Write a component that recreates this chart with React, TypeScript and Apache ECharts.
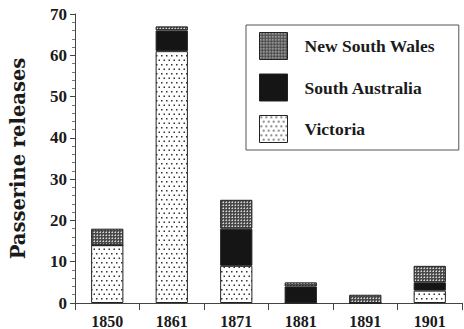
import React, { useEffect, useRef } from "react";
import * as echarts from "echarts";

const years = ["1850", "1861", "1871", "1881", "1891", "1901"];
const victoria = [14, 61, 9, 0, 0, 3];
const southAustralia = [0, 5, 9, 4, 0, 2];
const newSouthWales = [4, 1, 7, 1, 2, 4];
const legendOrder = ["New South Wales", "South Australia", "Victoria"];

function makeDots(): HTMLCanvasElement {
  const c = document.createElement("canvas");
  c.width = 10;
  c.height = 9;
  const g = c.getContext("2d")!;
  g.fillStyle = "#ffffff";
  g.fillRect(0, 0, 10, 9);
  g.fillStyle = "#333333";
  g.fillRect(1, 1, 1.5, 1.5);
  g.fillRect(6, 1, 1.5, 1.5);
  g.fillRect(3.5, 5.5, 1.5, 1.5);
  g.fillRect(8.5, 5.5, 1.5, 1.5);
  return c;
}

function makeChecker(): HTMLCanvasElement {
  const c = document.createElement("canvas");
  c.width = 3;
  c.height = 3;
  const g = c.getContext("2d")!;
  g.fillStyle = "#4a4a4a";
  g.fillRect(0, 0, 3, 3);
  g.fillStyle = "#d8d8d8";
  g.fillRect(1, 1, 1, 1);
  g.fillStyle = "#9a9a9a";
  g.fillRect(0, 1, 1, 1);
  g.fillRect(1, 0, 1, 1);
  return c;
}

export default function App() {
  const ref = useRef<HTMLDivElement>(null);
  useEffect(() => {
    if (!ref.current) return;
    const chart = echarts.init(ref.current, null, { renderer: "svg" });
    const dots = { image: makeDots(), repeat: "repeat" };
    const checker = { image: makeChecker(), repeat: "repeat" };
    const serif = "'Liberation Serif', serif";
    const itemStyle = (color: any) => ({ color, borderColor: "#222", borderWidth: 1 });
    chart.setOption({
      animation: false,
      backgroundColor: "#ffffff",
      grid: { left: 75, right: 2, top: 14, bottom: 24, containLabel: false },
      legend: {
        orient: "vertical",
        left: 246,
        top: 25,
        data: legendOrder,
        itemWidth: 28,
        itemHeight: 27,
        itemGap: 13.5,
        padding: [7, 24, 7, 13],
        borderColor: "#555",
        borderWidth: 1,
        icon: "rect",
        selectedMode: false,
        itemStyle: { borderColor: "#222", borderWidth: 1 },
        textStyle: {
          fontFamily: serif,
          fontWeight: "bold",
          fontSize: 17.5,
          color: "#1a1a1a",
          padding: [0, 0, 0, 12],
        },
      },
      xAxis: {
        type: "category",
        data: years,
        boundaryGap: true,
        axisLine: { lineStyle: { color: "#444", width: 1 } },
        axisTick: { show: true, alignWithLabel: false, length: 7, lineStyle: { color: "#444" } },
        axisLabel: {
          fontFamily: serif,
          fontWeight: "bold",
          fontSize: 16,
          color: "#1a1a1a",
          margin: 10,
        },
      },
      yAxis: {
        type: "value",
        min: 0,
        max: 70,
        interval: 10,
        name: "Passerine releases",
        nameLocation: "middle",
        nameGap: 47,
        nameTextStyle: {
          fontFamily: "'DejaVu Serif', serif",
          fontWeight: "bold",
          fontSize: 19.5,
          color: "#1a1a1a",
        },
        axisLine: { show: true, lineStyle: { color: "#444", width: 1 } },
        axisTick: { show: true, length: 5, lineStyle: { color: "#444" } },
        minorTick: { show: true, splitNumber: 5, length: 3, lineStyle: { color: "#777" } },
        splitLine: { show: false },
        axisLabel: {
          fontFamily: serif,
          fontWeight: "bold",
          fontSize: 17,
          color: "#1a1a1a",
          margin: 8,
        },
      },
      series: [
        {
          name: "Victoria",
          type: "bar",
          stack: "total",
          barWidth: "50%",
          data: victoria,
          itemStyle: itemStyle(dots),
        },
        {
          name: "South Australia",
          type: "bar",
          stack: "total",
          barWidth: "50%",
          data: southAustralia,
          itemStyle: itemStyle("#151515"),
        },
        {
          name: "New South Wales",
          type: "bar",
          stack: "total",
          barWidth: "50%",
          data: newSouthWales,
          itemStyle: itemStyle(checker),
        },
      ],
    });
    return () => chart.dispose();
  }, []);
  return (
    <div
      ref={ref}
      style={{ position: "absolute", left: 0, top: 0, width: 464, height: 329 }}
    />
  );
}
